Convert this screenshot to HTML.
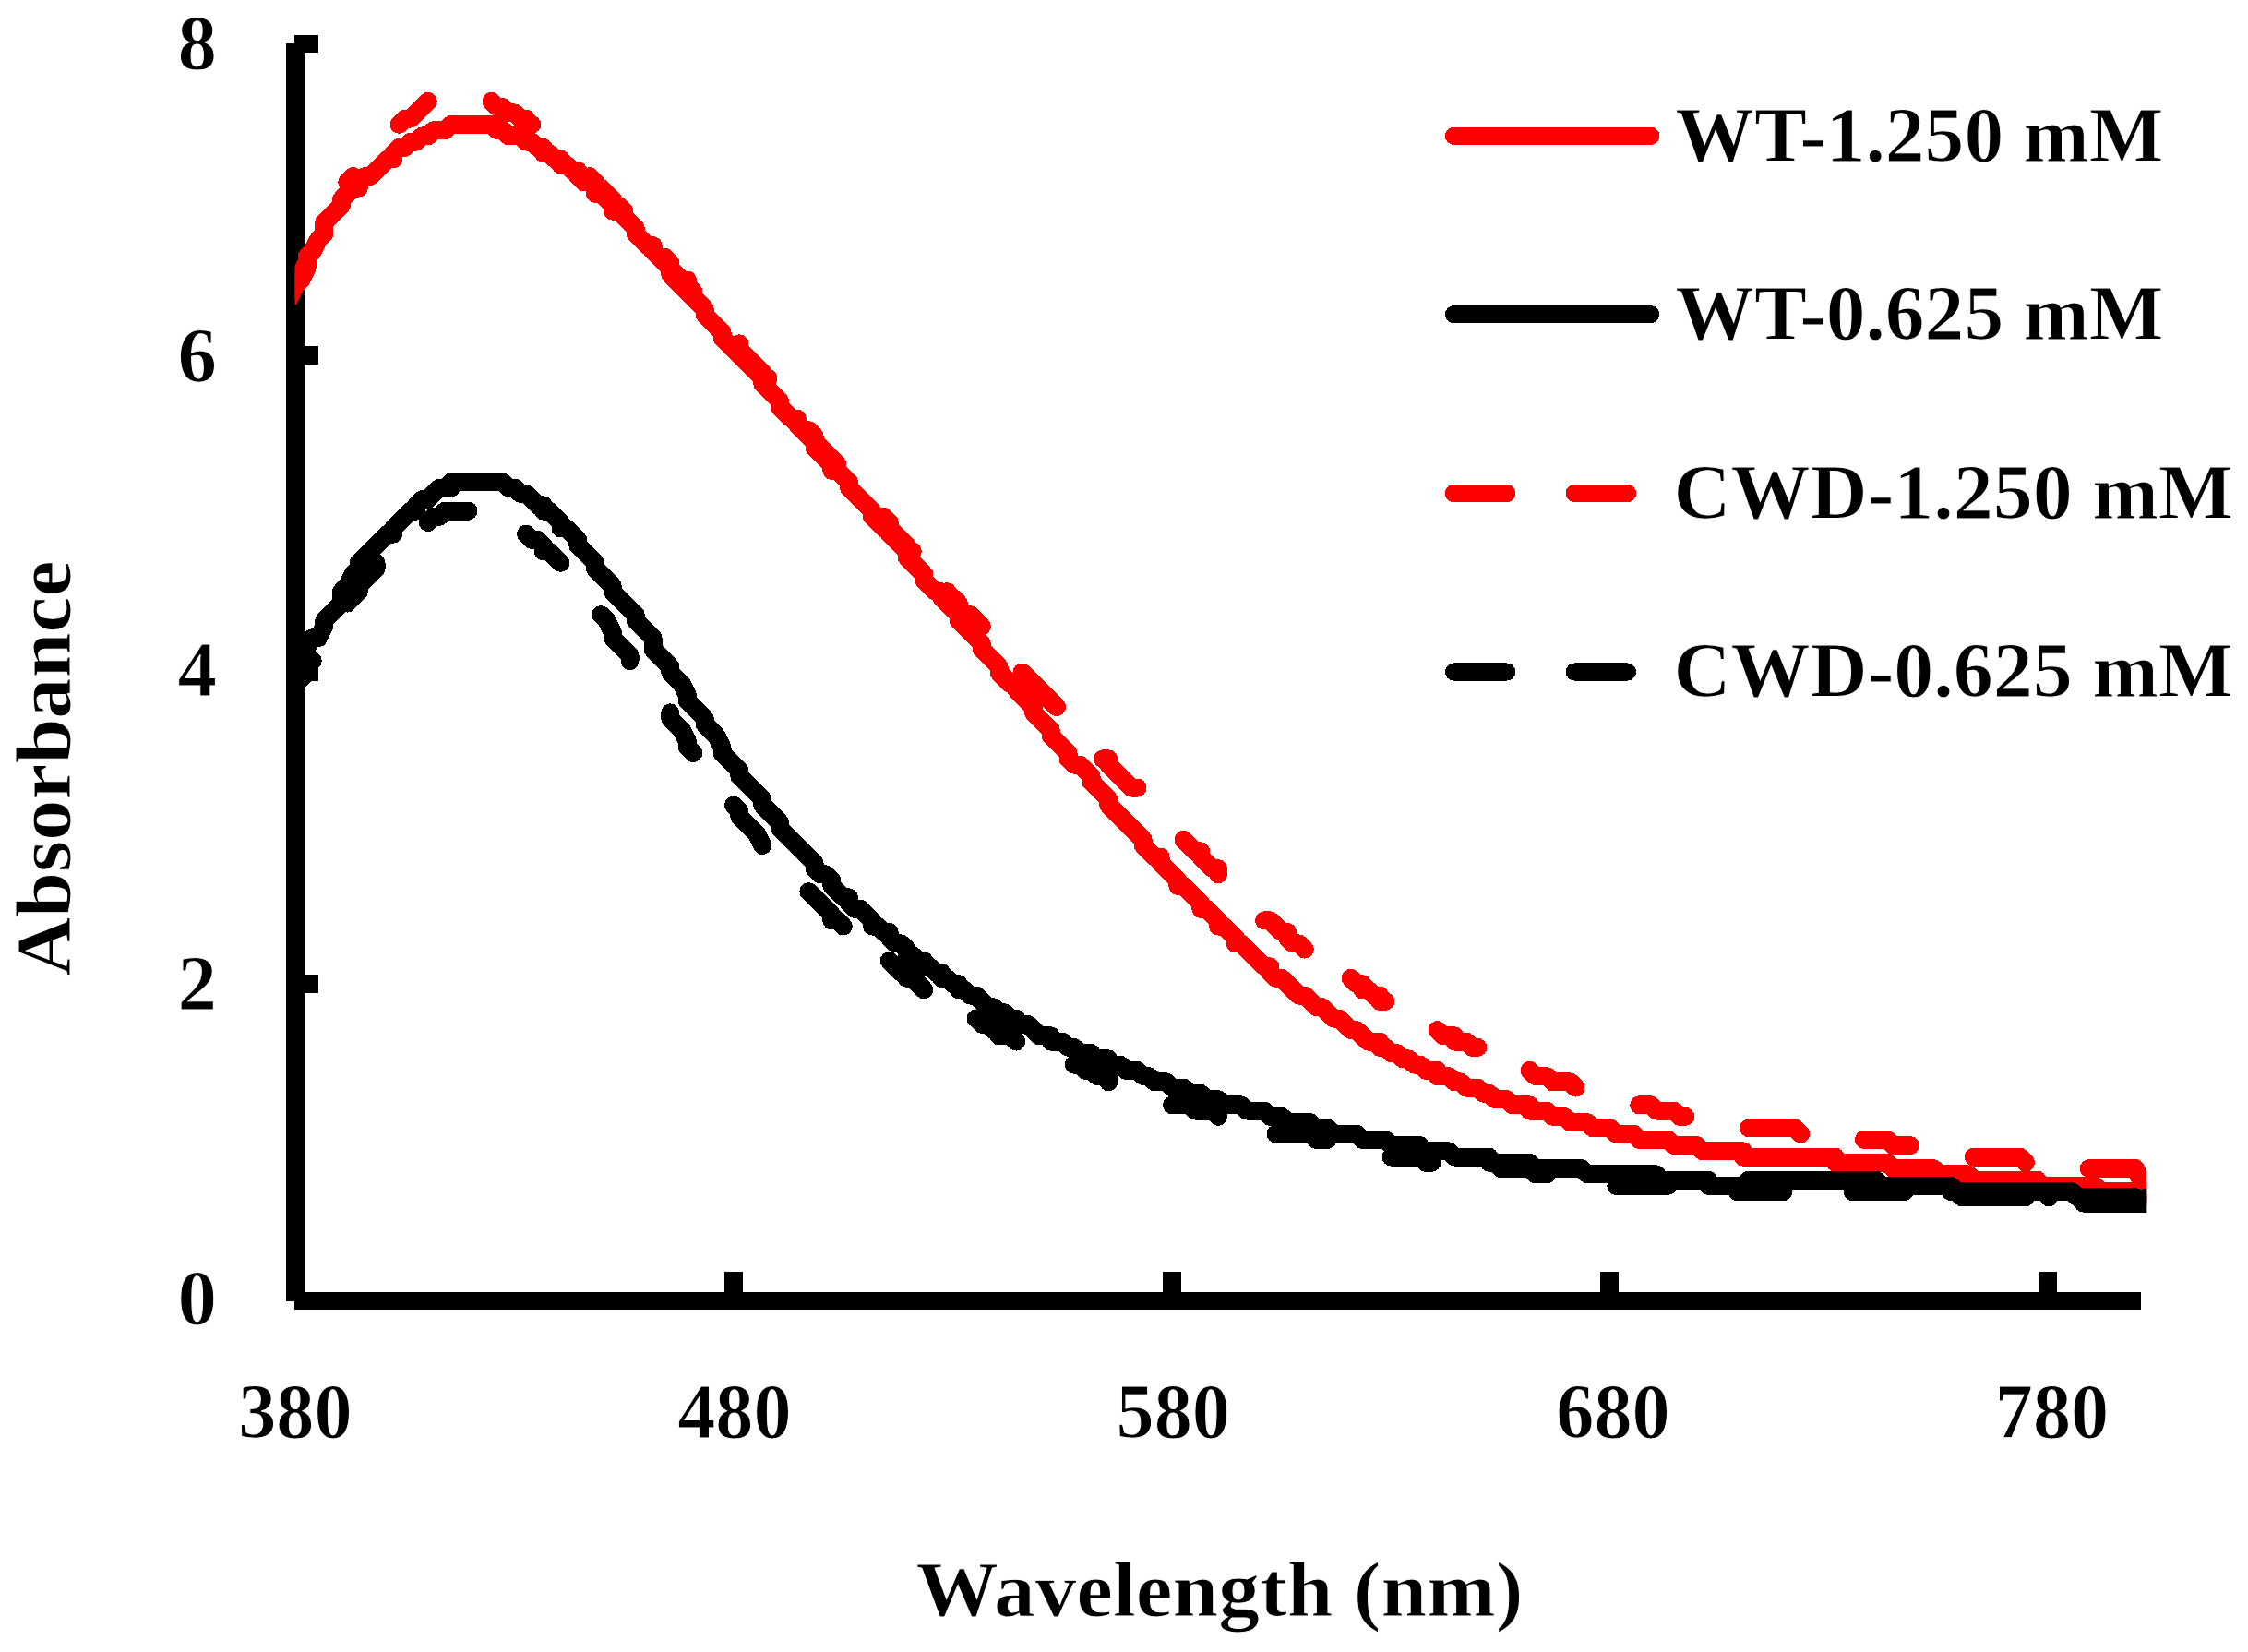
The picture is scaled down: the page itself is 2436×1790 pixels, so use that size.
<!DOCTYPE html>
<html lang="en"><head><meta charset="utf-8"><title>Absorbance spectra</title>
<style>html,body{margin:0;padding:0;background:#fff}svg{display:block}text{font-family:"Liberation Serif","DejaVu Serif",serif;font-weight:700;fill:#000;stroke:#fff;stroke-width:1px;paint-order:fill stroke}</style></head><body>
<svg width="2436" height="1790" viewBox="0 0 2436 1790">
<rect width="2436" height="1790" fill="#fff"/>
<defs><clipPath id="plot"><rect x="319.5" y="0" width="2006.8" height="1400"/></clipPath></defs>
<g fill="#000" shape-rendering="crispEdges">
<rect x="310.2" y="47.3" width="19.6" height="1362.5"/>
<rect x="319.2" y="1400" width="2000.8" height="18.7"/>
<rect x="319.2" y="37.8" width="25.8" height="19.3"/>
<rect x="319.2" y="375.3" width="25.8" height="19.3"/>
<rect x="319.2" y="718.4" width="25.8" height="19.3"/>
<rect x="319.2" y="1056.4" width="25.8" height="19.3"/>
<rect x="785.2" y="1378" width="19.6" height="31"/>
<rect x="1260.0" y="1378" width="19.6" height="31"/>
<rect x="1734.4" y="1378" width="19.6" height="31"/>
<rect x="2209.7" y="1378" width="19.6" height="31"/>
</g>
<g clip-path="url(#plot)" fill="none" stroke-width="20" stroke-linejoin="round" stroke-linecap="round" shape-rendering="crispEdges">
<polyline stroke="#ff0000" points="313.75,316.10 320,309.85 326.25,297.35 332.50,284.85 332.50,278.60 338.75,272.35 345,259.85 351.25,253.60 351.25,241.10 357.50,234.85 363.75,228.60 370,222.35 370,216.10 376.25,209.85 382.50,203.60 388.75,203.60 388.75,197.35 395,191.10 401.25,191.10 407.50,184.85 413.75,178.60 420,172.35 426.25,172.35 426.25,166.10 432.50,159.85 438.75,159.85 445,153.60 451.25,153.60 457.50,147.35 463.75,147.35 470,141.10 476.25,141.10 482.50,141.10 488.75,134.85 495,134.85 501.25,134.85 507.50,134.85 513.75,134.85 520,134.85 526.25,134.85 532.50,134.85 538.75,141.10 545,141.10 551.25,147.35 557.50,147.35 563.75,147.35 570,153.60 576.25,153.60 582.50,159.85 588.75,159.85 588.75,166.10 595,166.10 601.25,172.35 607.50,172.35 607.50,178.60 613.75,178.60 620,184.85 626.25,184.85 626.25,191.10 632.50,197.35 638.75,197.35 645,203.60 645,209.85 651.25,209.85 657.50,216.10 663.75,222.35 663.75,228.60 670,228.60 676.25,234.85 682.50,241.10 688.75,247.35 688.75,253.60 695,259.85 701.25,266.10 707.50,266.10 707.50,272.35 713.75,278.60 720,284.85 726.25,291.10 726.25,297.35 732.50,303.60 738.75,309.85 745,316.10 751.25,322.35 757.50,328.60 763.75,334.85 763.75,341.10 770,347.35 776.25,353.60 782.50,359.85 782.50,366.10 788.75,372.35 795,378.60 801.25,384.85 807.50,391.10 813.75,397.35 820,403.60 826.25,409.85 826.25,416.10 832.50,422.35 838.75,428.60 845,434.85 845,441.10 851.25,447.35 857.50,453.60 863.75,453.60 863.75,459.85 870,466.10 876.25,472.35 882.50,478.60 882.50,484.85 888.75,491.10 895,497.35 901.25,503.60 901.25,509.85 907.50,509.85 913.75,516.10 920,522.35 920,528.60 926.25,534.85 932.50,541.10 938.75,547.35 945,553.60 945,559.85 951.25,566.10 957.50,572.35 963.75,572.35 963.75,578.60 970,584.85 976.25,591.10 982.50,597.35 982.50,603.60 988.75,609.85 995,616.10 1001.25,622.35 1001.25,628.60 1007.50,634.85 1013.75,641.10 1020,641.10 1020,647.35 1026.25,653.60 1032.50,659.85 1038.75,666.10 1038.75,672.35 1045,678.60 1051.25,684.85 1057.50,691.10 1063.75,697.35 1063.75,703.60 1070,709.85 1076.25,716.10 1082.50,722.35 1082.50,728.60 1088.75,734.85 1095,741.10 1101.25,741.10 1101.25,747.35 1107.50,753.60 1113.75,759.85 1120,766.10 1120,772.35 1126.25,778.60 1132.50,784.85 1138.75,791.10 1138.75,797.35 1145,803.60 1151.25,809.85 1157.50,816.10 1157.50,822.35 1163.75,828.60 1170,828.60 1176.25,834.85 1182.50,841.10 1182.50,847.35 1188.75,853.60 1195,859.85 1201.25,866.10 1201.25,872.35 1207.50,878.60 1213.75,884.85 1220,891.10 1226.25,897.35 1232.50,903.60 1238.75,909.85 1238.75,916.10 1245,922.35 1251.25,928.60 1257.50,928.60 1257.50,934.85 1263.75,941.10 1270,947.35 1276.25,953.60 1276.25,959.85 1282.50,959.85 1288.75,966.10 1295,972.35 1301.25,978.60 1301.25,984.85 1307.50,984.85 1313.75,991.10 1320,997.35 1320,1003.60 1326.25,1003.60 1332.50,1009.85 1338.75,1016.10 1338.75,1022.35 1345,1022.35 1351.25,1028.60 1357.50,1034.85 1363.75,1041.10 1370,1047.35 1376.25,1047.35 1376.25,1053.60 1382.50,1059.85 1388.75,1059.85 1395,1066.10 1401.25,1072.35 1407.50,1078.60 1413.75,1078.60 1420,1084.85 1426.25,1091.10 1432.50,1091.10 1438.75,1097.35 1445,1103.60 1451.25,1103.60 1457.50,1109.85 1463.75,1116.10 1470,1116.10 1476.25,1122.35 1482.50,1128.60 1488.75,1128.60 1495,1128.60 1495,1134.85 1501.25,1134.85 1507.50,1141.10 1513.75,1141.10 1520,1147.35 1526.25,1147.35 1532.50,1153.60 1538.75,1153.60 1545,1159.85 1551.25,1159.85 1557.50,1159.85 1557.50,1166.10 1563.75,1166.10 1570,1166.10 1576.25,1172.35 1582.50,1172.35 1588.75,1178.60 1595,1178.60 1601.25,1178.60 1607.50,1184.85 1613.75,1184.85 1620,1191.10 1626.25,1191.10 1632.50,1191.10 1638.75,1197.35 1645,1197.35 1651.25,1197.35 1657.50,1197.35 1657.50,1203.60 1663.75,1203.60 1670,1203.60 1676.25,1203.60 1682.50,1209.85 1688.75,1209.85 1695,1209.85 1701.25,1216.10 1707.50,1216.10 1713.75,1216.10 1720,1216.10 1726.25,1222.35 1732.50,1222.35 1738.75,1222.35 1745,1222.35 1751.25,1228.60 1757.50,1228.60 1763.75,1228.60 1770,1228.60 1776.25,1234.85 1782.50,1234.85 1788.75,1234.85 1795,1234.85 1801.25,1234.85 1807.50,1234.85 1813.75,1241.10 1820,1241.10 1826.25,1241.10 1832.50,1241.10 1838.75,1241.10 1845,1247.35 1851.25,1247.35 1857.50,1247.35 1863.75,1247.35 1870,1247.35 1876.25,1247.35 1882.50,1247.35 1888.75,1247.35 1888.75,1253.60 1895,1253.60 1901.25,1253.60 1907.50,1253.60 1913.75,1253.60 1920,1253.60 1926.25,1253.60 1932.50,1253.60 1938.75,1253.60 1945,1253.60 1951.25,1253.60 1957.50,1253.60 1963.75,1253.60 1970,1253.60 1976.25,1253.60 1982.50,1253.60 1988.75,1253.60 1988.75,1259.85 1995,1259.85 2001.25,1259.85 2007.50,1259.85 2013.75,1259.85 2020,1259.85 2026.25,1259.85 2032.50,1259.85 2038.75,1259.85 2045,1259.85 2051.25,1266.10 2057.50,1266.10 2063.75,1266.10 2070,1266.10 2076.25,1266.10 2082.50,1266.10 2088.75,1266.10 2095,1266.10 2101.25,1272.35 2107.50,1272.35 2113.75,1272.35 2120,1272.35 2126.25,1272.35 2132.50,1272.35 2138.75,1278.60 2145,1278.60 2151.25,1278.60 2157.50,1278.60 2163.75,1278.60 2170,1278.60 2176.25,1278.60 2182.50,1278.60 2188.75,1278.60 2195,1278.60 2201.25,1278.60 2207.50,1278.60 2207.50,1284.85 2213.75,1284.85 2220,1284.85 2226.25,1284.85 2232.50,1284.85 2238.75,1284.85 2245,1284.85 2251.25,1284.85 2257.50,1284.85 2263.75,1284.85 2270,1284.85 2276.25,1291.10 2282.50,1291.10 2288.75,1291.10 2295,1291.10 2301.25,1291.10 2307.50,1291.10 2313.75,1291.10 2320,1291.10 2326.25,1291.10 2332.50,1291.10"/>
<polyline stroke="#000" points="313.75,734.85 320,722.35 326.25,716.10 332.50,703.60 332.50,697.35 338.75,691.10 345,691.10 351.25,678.60 351.25,672.35 357.50,666.10 363.75,659.85 370,653.60 370,641.10 376.25,634.85 382.50,622.35 388.75,616.10 388.75,609.85 395,603.60 401.25,597.35 407.50,591.10 413.75,584.85 420,578.60 426.25,578.60 426.25,572.35 432.50,566.10 438.75,559.85 445,553.60 451.25,553.60 451.25,547.35 457.50,541.10 463.75,541.10 470,534.85 476.25,528.60 482.50,528.60 488.75,528.60 488.75,522.35 495,522.35 501.25,522.35 507.50,522.35 513.75,522.35 520,522.35 526.25,522.35 532.50,522.35 538.75,522.35 545,522.35 551.25,528.60 557.50,528.60 563.75,534.85 570,534.85 576.25,541.10 582.50,547.35 588.75,547.35 588.75,553.60 595,553.60 601.25,559.85 607.50,566.10 607.50,572.35 613.75,572.35 620,578.60 626.25,584.85 626.25,591.10 632.50,597.35 638.75,603.60 645,609.85 645,616.10 651.25,622.35 657.50,628.60 663.75,634.85 663.75,641.10 670,647.35 676.25,653.60 682.50,659.85 688.75,666.10 688.75,672.35 695,678.60 701.25,684.85 707.50,691.10 707.50,703.60 713.75,709.85 720,716.10 726.25,722.35 726.25,728.60 732.50,734.85 738.75,741.10 745,753.60 745,759.85 751.25,766.10 757.50,772.35 763.75,778.60 763.75,784.85 770,791.10 776.25,797.35 782.50,809.85 782.50,816.10 788.75,822.35 795,828.60 801.25,834.85 801.25,841.10 807.50,847.35 813.75,853.60 820,859.85 826.25,866.10 826.25,872.35 832.50,878.60 838.75,884.85 845,891.10 845,897.35 851.25,903.60 857.50,909.85 863.75,916.10 870,922.35 876.25,928.60 882.50,934.85 882.50,941.10 888.75,947.35 895,947.35 901.25,953.60 901.25,959.85 907.50,966.10 913.75,972.35 920,972.35 920,978.60 926.25,984.85 932.50,984.85 938.75,991.10 945,997.35 945,1003.60 951.25,1003.60 957.50,1009.85 963.75,1009.85 963.75,1016.10 970,1022.35 976.25,1022.35 982.50,1028.60 982.50,1034.85 988.75,1034.85 995,1041.10 1001.25,1041.10 1001.25,1047.35 1007.50,1047.35 1013.75,1053.60 1020,1053.60 1020,1059.85 1026.25,1059.85 1032.50,1066.10 1038.75,1066.10 1038.75,1072.35 1045,1072.35 1051.25,1078.60 1057.50,1078.60 1063.75,1084.85 1070,1091.10 1076.25,1091.10 1082.50,1097.35 1088.75,1097.35 1095,1103.60 1101.25,1103.60 1101.25,1109.85 1107.50,1109.85 1113.75,1109.85 1120,1116.10 1126.25,1122.35 1132.50,1122.35 1138.75,1122.35 1138.75,1128.60 1145,1128.60 1151.25,1128.60 1157.50,1134.85 1163.75,1134.85 1170,1141.10 1176.25,1141.10 1182.50,1141.10 1182.50,1147.35 1188.75,1147.35 1195,1147.35 1201.25,1147.35 1201.25,1153.60 1207.50,1153.60 1213.75,1153.60 1220,1159.85 1226.25,1159.85 1232.50,1159.85 1238.75,1166.10 1245,1166.10 1251.25,1172.35 1257.50,1172.35 1263.75,1172.35 1270,1178.60 1276.25,1178.60 1282.50,1178.60 1288.75,1184.85 1295,1184.85 1301.25,1184.85 1307.50,1191.10 1313.75,1191.10 1320,1191.10 1326.25,1197.35 1332.50,1197.35 1338.75,1197.35 1345,1197.35 1351.25,1203.60 1357.50,1203.60 1363.75,1203.60 1370,1203.60 1376.25,1209.85 1382.50,1209.85 1388.75,1209.85 1395,1216.10 1401.25,1216.10 1407.50,1216.10 1413.75,1216.10 1420,1216.10 1420,1222.35 1426.25,1222.35 1432.50,1222.35 1438.75,1222.35 1445,1228.60 1451.25,1228.60 1457.50,1228.60 1463.75,1228.60 1470,1228.60 1476.25,1234.85 1482.50,1234.85 1488.75,1234.85 1495,1234.85 1501.25,1234.85 1507.50,1241.10 1513.75,1241.10 1520,1241.10 1526.25,1241.10 1532.50,1241.10 1538.75,1241.10 1538.75,1247.35 1545,1247.35 1551.25,1247.35 1557.50,1247.35 1563.75,1247.35 1570,1247.35 1576.25,1253.60 1582.50,1253.60 1588.75,1253.60 1595,1253.60 1601.25,1253.60 1607.50,1253.60 1613.75,1253.60 1613.75,1259.85 1620,1259.85 1626.25,1259.85 1632.50,1259.85 1638.75,1259.85 1645,1259.85 1651.25,1259.85 1657.50,1259.85 1663.75,1266.10 1670,1266.10 1676.25,1266.10 1682.50,1266.10 1688.75,1266.10 1695,1266.10 1701.25,1266.10 1707.50,1266.10 1713.75,1266.10 1720,1272.35 1726.25,1272.35 1732.50,1272.35 1738.75,1272.35 1745,1272.35 1751.25,1272.35 1757.50,1272.35 1763.75,1272.35 1770,1272.35 1776.25,1272.35 1782.50,1272.35 1788.75,1272.35 1795,1272.35 1795,1278.60 1801.25,1278.60 1807.50,1278.60 1813.75,1278.60 1820,1278.60 1826.25,1278.60 1832.50,1278.60 1838.75,1278.60 1845,1278.60 1851.25,1278.60 1851.25,1284.85 1857.50,1284.85 1863.75,1284.85 1870,1284.85 1876.25,1284.85 1882.50,1284.85 1888.75,1284.85 1895,1278.60 1901.25,1278.60 1907.50,1278.60 1913.75,1278.60 1920,1278.60 1926.25,1278.60 1932.50,1278.60 1938.75,1278.60 1945,1278.60 1951.25,1278.60 1957.50,1278.60 1963.75,1278.60 1970,1278.60 1976.25,1278.60 1982.50,1278.60 1988.75,1278.60 1995,1278.60 2001.25,1278.60 2007.50,1278.60 2013.75,1278.60 2020,1278.60 2026.25,1278.60 2032.50,1278.60 2038.75,1284.85 2045,1284.85 2051.25,1284.85 2057.50,1284.85 2063.75,1284.85 2070,1284.85 2076.25,1284.85 2082.50,1284.85 2088.75,1284.85 2095,1284.85 2101.25,1284.85 2107.50,1284.85 2113.75,1284.85 2120,1291.10 2126.25,1291.10 2132.50,1291.10 2138.75,1291.10 2145,1291.10 2151.25,1291.10 2157.50,1291.10 2163.75,1291.10 2170,1291.10 2176.25,1291.10 2182.50,1291.10 2188.75,1291.10 2195,1291.10 2201.25,1291.10 2207.50,1291.10 2213.75,1291.10 2220,1291.10 2226.25,1291.10 2232.50,1291.10 2238.75,1291.10 2245,1291.10 2251.25,1297.35 2257.50,1297.35 2263.75,1297.35 2270,1297.35 2276.25,1297.35 2282.50,1297.35 2288.75,1297.35 2295,1297.35 2301.25,1297.35 2307.50,1297.35 2313.75,1297.35 2320,1297.35 2326.25,1297.35 2332.50,1297.35"/>
<polyline stroke="#ff0000" points="313.75,322.35 320,309.85 326.25,303.60 332.50,291.10 332.50,278.60 338.75,272.35"/>
<polyline stroke="#ff0000" points="376.25,197.35 382.50,191.10"/>
<polyline stroke="#ff0000" points="432.50,134.85 438.75,128.60 445,128.60 451.25,122.35 457.50,116.10 463.75,109.85"/>
<polyline stroke="#ff0000" points="532.50,109.85 538.75,116.10 545,116.10 545,122.35 551.25,122.35 557.50,122.35 563.75,128.60 570,128.60 570,134.85 576.25,134.85"/>
<polyline stroke="#ff0000" points="638.75,191.10 645,197.35 645,203.60 651.25,203.60 657.50,209.85 663.75,216.10 663.75,222.35 670,222.35 676.25,228.60"/>
<polyline stroke="#ff0000" points="720,278.60 726.25,284.85 726.25,291.10 732.50,297.35 738.75,303.60 745,303.60 745,309.85 751.25,316.10"/>
<polyline stroke="#ff0000" points="801.25,372.35 801.25,378.60 807.50,384.85 813.75,391.10 820,397.35 826.25,403.60 826.25,409.85 832.50,409.85"/>
<polyline stroke="#ff0000" points="876.25,466.10 882.50,472.35 882.50,478.60 888.75,484.85 895,491.10 901.25,497.35 907.50,503.60"/>
<polyline stroke="#ff0000" points="951.25,559.85 957.50,559.85 963.75,566.10 963.75,572.35 970,578.60 976.25,584.85 982.50,591.10 982.50,597.35 988.75,597.35"/>
<polyline stroke="#ff0000" points="1026.25,641.10 1026.25,647.35 1032.50,647.35 1038.75,653.60 1038.75,659.85 1045,666.10 1051.25,666.10 1057.50,672.35 1063.75,678.60"/>
<polyline stroke="#ff0000" points="1107.50,728.60 1113.75,734.85 1120,741.10 1126.25,747.35 1132.50,753.60 1138.75,759.85 1145,766.10"/>
<polyline stroke="#ff0000" points="1195,822.35 1201.25,822.35 1201.25,828.60 1207.50,834.85 1213.75,841.10 1220,847.35 1226.25,853.60 1232.50,853.60"/>
<polyline stroke="#ff0000" points="1282.50,909.85 1288.75,916.10 1295,922.35 1301.25,922.35 1301.25,928.60 1307.50,934.85 1313.75,941.10 1320,941.10 1320,947.35"/>
<polyline stroke="#ff0000" points="1370,997.35 1376.25,997.35 1382.50,1003.60 1388.75,1009.85 1395,1009.85 1395,1016.10 1401.25,1022.35 1407.50,1022.35 1413.75,1028.60"/>
<polyline stroke="#ff0000" points="1463.75,1059.85 1470,1066.10 1476.25,1066.10 1476.25,1072.35 1482.50,1072.35 1488.75,1078.60 1495,1078.60 1495,1084.85 1501.25,1084.85"/>
<polyline stroke="#ff0000" points="1557.50,1116.10 1563.75,1122.35 1570,1122.35 1576.25,1122.35 1576.25,1128.60 1582.50,1128.60 1588.75,1128.60 1595,1134.85 1601.25,1134.85"/>
<polyline stroke="#ff0000" points="1657.50,1159.85 1663.75,1166.10 1670,1166.10 1676.25,1166.10 1682.50,1172.35 1688.75,1172.35 1695,1172.35 1701.25,1172.35 1707.50,1178.60"/>
<polyline stroke="#ff0000" points="1776.25,1197.35 1782.50,1197.35 1788.75,1197.35 1795,1203.60 1801.25,1203.60 1807.50,1203.60 1813.75,1203.60 1820,1209.85 1826.25,1209.85"/>
<polyline stroke="#ff0000" points="1895,1222.35 1901.25,1222.35 1907.50,1222.35 1913.75,1222.35 1920,1222.35 1926.25,1222.35 1932.50,1222.35 1938.75,1222.35 1945,1222.35 1951.25,1228.60"/>
<polyline stroke="#ff0000" points="2020,1234.85 2026.25,1234.85 2032.50,1234.85 2038.75,1234.85 2045,1234.85 2051.25,1241.10 2057.50,1241.10 2063.75,1241.10 2070,1241.10"/>
<polyline stroke="#ff0000" points="2138.75,1253.60 2145,1253.60 2151.25,1253.60 2157.50,1253.60 2163.75,1253.60 2170,1253.60 2176.25,1253.60 2182.50,1253.60 2188.75,1253.60 2195,1259.85"/>
<polyline stroke="#ff0000" points="2263.75,1266.10 2270,1266.10 2276.25,1266.10 2282.50,1266.10 2288.75,1266.10 2295,1266.10 2301.25,1266.10 2307.50,1266.10 2313.75,1266.10 2320,1278.60"/>
<polyline stroke="#000" points="313.75,747.35 320,741.10 326.25,734.85 332.50,728.60 332.50,722.35 338.75,716.10"/>
<polyline stroke="#000" points="376.25,653.60 382.50,647.35 388.75,641.10 388.75,634.85 395,628.60 401.25,622.35 407.50,616.10 407.50,609.85"/>
<polyline stroke="#000" points="463.75,566.10 470,559.85 476.25,559.85 482.50,553.60 488.75,553.60 495,553.60 501.25,553.60 507.50,553.60"/>
<polyline stroke="#000" points="570,578.60 576.25,584.85 582.50,584.85 588.75,591.10 588.75,597.35 595,597.35 601.25,603.60 607.50,609.85"/>
<polyline stroke="#000" points="651.25,666.10 657.50,672.35 663.75,684.85 663.75,691.10 670,697.35 676.25,703.60 682.50,709.85 682.50,716.10"/>
<polyline stroke="#000" points="726.25,772.35 726.25,778.60 732.50,784.85 738.75,791.10 745,803.60 745,809.85 751.25,816.10"/>
<polyline stroke="#000" points="795,872.35 801.25,878.60 801.25,884.85 807.50,891.10 813.75,897.35 820,903.60 826.25,916.10"/>
<polyline stroke="#000" points="876.25,966.10 882.50,972.35 888.75,978.60 895,984.85 901.25,991.10 901.25,997.35 907.50,997.35 913.75,1003.60"/>
<polyline stroke="#000" points="963.75,1041.10 970,1047.35 976.25,1053.60 982.50,1053.60 982.50,1059.85 988.75,1059.85 995,1066.10 1001.25,1072.35"/>
<polyline stroke="#000" points="1057.50,1103.60 1063.75,1103.60 1063.75,1109.85 1070,1109.85 1076.25,1116.10 1082.50,1116.10 1082.50,1122.35 1088.75,1122.35 1095,1122.35 1101.25,1128.60"/>
<polyline stroke="#000" points="1163.75,1153.60 1170,1153.60 1176.25,1159.85 1182.50,1159.85 1188.75,1166.10 1195,1166.10 1201.25,1166.10 1201.25,1172.35"/>
<polyline stroke="#000" points="1270,1197.35 1276.25,1197.35 1282.50,1197.35 1288.75,1197.35 1295,1203.60 1301.25,1203.60 1307.50,1203.60 1313.75,1203.60 1320,1209.85"/>
<polyline stroke="#000" points="1382.50,1228.60 1388.75,1228.60 1395,1228.60 1401.25,1228.60 1407.50,1228.60 1413.75,1228.60 1420,1228.60 1426.25,1234.85 1432.50,1234.85 1438.75,1234.85"/>
<polyline stroke="#000" points="1507.50,1253.60 1513.75,1253.60 1520,1253.60 1526.25,1253.60 1532.50,1253.60 1538.75,1253.60 1545,1259.85 1551.25,1259.85"/>
<polyline stroke="#000" points="1626.25,1266.10 1632.50,1266.10 1638.75,1266.10 1645,1266.10 1651.25,1266.10 1657.50,1266.10 1663.75,1272.35 1670,1272.35 1676.25,1272.35"/>
<polyline stroke="#000" points="1751.25,1284.85 1757.50,1284.85 1763.75,1284.85 1770,1284.85 1776.25,1284.85 1782.50,1284.85 1788.75,1284.85 1795,1284.85 1801.25,1284.85 1807.50,1284.85"/>
<polyline stroke="#000" points="1882.50,1291.10 1888.75,1291.10 1895,1291.10 1901.25,1291.10 1907.50,1291.10 1913.75,1291.10 1920,1291.10 1926.25,1291.10 1932.50,1291.10"/>
<polyline stroke="#000" points="2007.50,1291.10 2013.75,1291.10 2020,1291.10 2026.25,1291.10 2032.50,1291.10 2038.75,1291.10 2045,1291.10 2051.25,1291.10 2057.50,1291.10 2063.75,1291.10"/>
<polyline stroke="#000" points="2113.75,1291.10 2120,1291.10 2126.25,1297.35 2132.50,1297.35 2138.75,1297.35 2145,1297.35 2151.25,1297.35 2157.50,1297.35 2163.75,1297.35 2170,1297.35 2176.25,1297.35 2182.50,1297.35 2188.75,1297.35 2195,1297.35"/>
<polyline stroke="#000" points="2220,1297.35 2220.10,1297.35"/>
<polyline stroke="#000" points="2257.50,1303.60 2263.75,1303.60 2270,1303.60 2276.25,1303.60 2282.50,1303.60 2288.75,1303.60 2295,1303.60 2301.25,1303.60 2307.50,1303.60 2313.75,1303.60 2320,1303.60 2326.25,1303.60 2332.50,1303.60 2338.75,1303.60"/>
</g>
<g fill="none" stroke-width="19.2" stroke-linecap="round" shape-rendering="crispEdges">
<line x1="1575.5" y1="147.3" x2="1788.7" y2="147.3" stroke="#ff0000"/>
<line x1="1575.5" y1="340.6" x2="1788.7" y2="340.6" stroke="#000"/>
<line x1="1575.5" y1="534.5" x2="1788.7" y2="534.5" stroke="#ff0000" stroke-dasharray="57.3 73.4"/>
<line x1="1575.5" y1="728" x2="1788.7" y2="728" stroke="#000" stroke-dasharray="57.3 73.4"/>
</g>
<g font-size="85">
<text x="1815.5" y="174.8" textLength="529" lengthAdjust="spacingAndGlyphs">WT-1.250 mM</text>
<text x="1815.5" y="367.7" textLength="529" lengthAdjust="spacingAndGlyphs">WT-0.625 mM</text>
<text x="1813.5" y="561.6" textLength="606.5" lengthAdjust="spacingAndGlyphs">CWD-1.250 mM</text>
<text x="1813.5" y="754.9" textLength="606.5" lengthAdjust="spacingAndGlyphs">CWD-0.625 mM</text>
<text x="235" y="74.5" text-anchor="end">8</text>
<text x="235" y="414.4" text-anchor="end">6</text>
<text x="235" y="754.2" text-anchor="end">4</text>
<text x="235" y="1094.3" text-anchor="end">2</text>
<text x="235" y="1435" text-anchor="end">0</text>
<text x="258.2" y="1557.8" textLength="123.4" lengthAdjust="spacingAndGlyphs">380</text>
<text x="734.2" y="1557.8" textLength="123.4" lengthAdjust="spacingAndGlyphs">480</text>
<text x="1209.6" y="1557.8" textLength="123.4" lengthAdjust="spacingAndGlyphs">580</text>
<text x="1686.3" y="1557.8" textLength="123.4" lengthAdjust="spacingAndGlyphs">680</text>
<text x="2161.8" y="1557.8" textLength="123.4" lengthAdjust="spacingAndGlyphs">780</text>
<text x="992.5" y="1750.9" textLength="658" lengthAdjust="spacingAndGlyphs">Wavelength (nm)</text>
<text transform="translate(76 1057.5) rotate(-90)" textLength="450" lengthAdjust="spacingAndGlyphs">Absorbance</text>
</g>
</svg></body></html>
